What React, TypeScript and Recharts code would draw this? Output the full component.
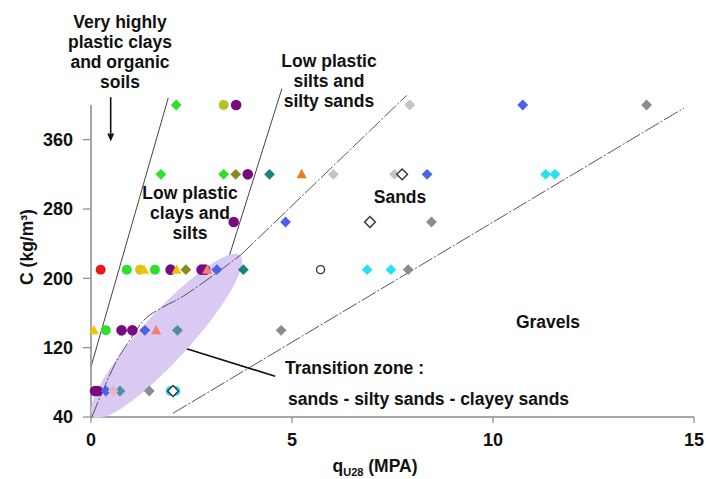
import React from 'react';
import { ComposedChart, Scatter, XAxis, YAxis, ReferenceLine } from 'recharts';

// ---- axes ----
const xTicks = [0, 5, 10, 15];
const yTicks = [40, 120, 200, 280, 360];

// ---- data points (qU28 MPa, C kg/m3) ----
const redCircles = [{ x: 0.24, y: 210 }];
const greenDiamonds = [{ x: 2.12, y: 400 }, { x: 1.74, y: 320 }, { x: 3.3, y: 320 }];
const greenCircles = [{ x: 0.89, y: 210 }, { x: 1.59, y: 210 }, { x: 0.37, y: 140 }];
const limeCircles = [{ x: 3.3, y: 400 }];
const purpleCircles = [
  { x: 3.61, y: 400 }, { x: 3.9, y: 320 }, { x: 3.55, y: 265 }, { x: 1.98, y: 210 },
  { x: 2.75, y: 210 }, { x: 2.84, y: 210 }, { x: 0.76, y: 140 }, { x: 1.03, y: 140 },
  { x: 0.1, y: 70 }, { x: 0.17, y: 70 },
];
const oliveDiamonds = [{ x: 3.6, y: 320 }, { x: 2.36, y: 210 }];
const tealDiamonds = [{ x: 4.44, y: 320 }, { x: 3.79, y: 210 }];
const steelDiamonds = [{ x: 2.15, y: 140 }, { x: 0.72, y: 70 }];
const orangeTriangles = [{ x: 5.24, y: 320 }];
const salmonTriangles = [{ x: 2.89, y: 210 }, { x: 1.62, y: 140 }];
const yellowCircles = [{ x: 1.22, y: 210 }];
const yellowTriangles = [{ x: 1.32, y: 210 }, { x: 2.13, y: 210 }, { x: 0.07, y: 140 }];
const blueDiamonds = [
  { x: 10.74, y: 400 }, { x: 8.36, y: 320 }, { x: 4.84, y: 265 },
  { x: 3.13, y: 210 }, { x: 1.34, y: 140 }, { x: 0.37, y: 70 },
];
const lightGrayDiamonds = [{ x: 7.93, y: 400 }, { x: 6.03, y: 320 }, { x: 7.55, y: 320 }];
const grayDiamonds = [
  { x: 13.82, y: 400 }, { x: 8.47, y: 265 }, { x: 7.89, y: 210 },
  { x: 4.73, y: 140 }, { x: 1.45, y: 70 },
];
const cyanDiamonds = [{ x: 11.31, y: 320 }, { x: 11.54, y: 320 }, { x: 6.87, y: 210 }, { x: 7.46, y: 210 }];
const cyanCircles = [{ x: 1.98, y: 70 }, { x: 2.1, y: 70 }];
const pinkDiamonds = [{ x: 0.55, y: 70 }];
const openDiamonds = [{ x: 7.74, y: 320 }, { x: 6.94, y: 265 }, { x: 2.04, y: 70 }];
const openCircles = [{ x: 5.71, y: 210 }];

// ---- zone boundaries ----
const lineVeryHighly = [{ x: 0, y: 98 }, { x: 1.92, y: 408 }];
const lineLowPlasticSilts = [{ x: 3.38, y: 217 }, { x: 4.75, y: 419 }];
const sandsBoundaryCurve = [
  { x: 0.02, y: 40 }, { x: 0.3, y: 71 }, { x: 0.64, y: 105 }, { x: 0.97, y: 129 },
  { x: 1.3, y: 151 }, { x: 1.72, y: 165 }, { x: 2.21, y: 177 }, { x: 2.88, y: 198 },
  { x: 3.38, y: 215 }, { x: 3.75, y: 228 },
];
const sandsBoundaryUpper = [{ x: 3.75, y: 228 }, { x: 7.85, y: 411 }];
const gravelsBoundary = [{ x: 2.04, y: 44.3 }, { x: 14.75, y: 396.5 }];
const transitionZoneAxis = [{ x: 0.05, y: 40.5 }, { x: 3.71, y: 226.6 }];
const arrowOrganic = [{ x: 0.49, y: 409 }, { x: 0.49, y: 358 }];
const arrowTransition = [{ x: 4.58, y: 87 }, { x: 2.09, y: 123 }];

// ---- shapes ----
const makeDiamond = (fill: string, stroke = 'none') => (p: any) => {
  const { cx, cy } = p;
  const s = 5.4;
  return (
    <path
      d={`M${cx},${cy - s}L${cx + s},${cy}L${cx},${cy + s}L${cx - s},${cy}Z`}
      fill={fill}
      stroke={stroke}
      strokeWidth={stroke === 'none' ? 0 : 1.4}
    />
  );
};
const makeCircle = (fill: string, stroke = 'none', r = 5) => (p: any) => (
  <circle cx={p.cx} cy={p.cy} r={r} fill={fill} stroke={stroke} strokeWidth={stroke === 'none' ? 0 : 1.4} />
);
const makeTriangle = (fill: string) => (p: any) => {
  const { cx, cy } = p;
  return <path d={`M${cx},${cy - 5.5}L${cx + 5},${cy + 4}L${cx - 5},${cy + 4}Z`} fill={fill} />;
};
const noShape = () => <g />;

const EllipseLine = (p: any) => {
  const pts = p.points;
  if (!pts || pts.length < 2) return <g />;
  const a = pts[0];
  const b = pts[pts.length - 1];
  const cx = (a.x + b.x) / 2;
  const cy = (a.y + b.y) / 2;
  const dx = b.x - a.x;
  const dy = b.y - a.y;
  const rx = Math.sqrt(dx * dx + dy * dy) / 2;
  const ang = (Math.atan2(dy, dx) * 180) / Math.PI;
  return (
    <ellipse cx={cx} cy={cy} rx={rx} ry={24} transform={`rotate(${ang} ${cx} ${cy})`} fill="#d9c9f3" stroke="none" />
  );
};

const ArrowShape = (p: any) => {
  const { x1, y1, x2, y2 } = p;
  const ang = Math.atan2(y2 - y1, x2 - x1);
  const L = 8;
  const W = 3.5;
  const bx = x2 - L * Math.cos(ang);
  const by = y2 - L * Math.sin(ang);
  const px = -Math.sin(ang) * W;
  const py = Math.cos(ang) * W;
  return (
    <g>
      <line x1={x1} y1={y1} x2={bx} y2={by} stroke="#111" strokeWidth={1.6} />
      <path d={`M${x2},${y2}L${bx + px},${by + py}L${bx - px},${by - py}Z`} fill="#111" />
    </g>
  );
};

const DASH = '16 2 2 2';
const SolidLine = (p: any) => <line x1={p.x1} y1={p.y1} x2={p.x2} y2={p.y2} stroke="#444" strokeWidth={1} />;
const DashLine = (p: any) => (
  <line x1={p.x1} y1={p.y1} x2={p.x2} y2={p.y2} stroke="#555" strokeWidth={1} strokeDasharray={DASH} />
);

const FONT = '"Liberation Sans", Arial, sans-serif';
const tickStyle = { fontSize: 18, fontWeight: 'bold', fill: '#111', fontFamily: FONT };

const Txt = ({ x, y, left, children }: any) => (
  <div
    style={{
      position: 'absolute',
      left: x,
      top: y,
      transform: left ? 'translate(0,-50%)' : 'translate(-50%,-50%)',
      fontFamily: FONT,
      fontWeight: 'bold',
      fontSize: 17.5,
      lineHeight: '20px',
      whiteSpace: 'nowrap',
      textAlign: 'center',
      color: '#111',
    }}
  >
    {children}
  </div>
);

export default function App() {
  return (
    <div style={{ position: 'absolute', left: 0, top: 0, width: 706, height: 479, background: '#fff' }}>
      <ComposedChart width={706} height={479} margin={{ top: 105, right: 12, left: 0, bottom: 0 }}>
        <XAxis
          type="number"
          dataKey="x"
          domain={[0, 15]}
          ticks={xTicks}
          height={62}
          tick={tickStyle}
          tickSize={6}
          tickMargin={10}
          axisLine={{ stroke: '#8a8a8a', strokeWidth: 1.5 }}
          tickLine={{ stroke: '#8a8a8a', strokeWidth: 1.2 }}
        />
        <YAxis
          type="number"
          dataKey="y"
          domain={[40, 400]}
          ticks={yTicks}
          width={91}
          tick={tickStyle}
          tickSize={8}
          tickMargin={10}
          axisLine={{ stroke: '#8a8a8a', strokeWidth: 1.5 }}
          tickLine={{ stroke: '#8a8a8a', strokeWidth: 1.2 }}
        />
        <Scatter
          data={transitionZoneAxis}
          line={EllipseLine}
          lineType="joint"
          shape={noShape}
          isAnimationActive={false}
        />
        <Scatter
          data={sandsBoundaryCurve}
          line={{ stroke: '#555', strokeWidth: 1, strokeDasharray: DASH }}
          lineJointType="monotoneX"
          lineType="joint"
          shape={noShape}
          isAnimationActive={false}
        />
        <ReferenceLine segment={sandsBoundaryUpper} ifOverflow="visible" shape={DashLine} />
        <ReferenceLine segment={lineVeryHighly} ifOverflow="visible" shape={SolidLine} />
        <ReferenceLine segment={lineLowPlasticSilts} ifOverflow="visible" shape={SolidLine} />
        <ReferenceLine segment={gravelsBoundary} ifOverflow="visible" shape={DashLine} />
        <ReferenceLine segment={arrowOrganic} ifOverflow="visible" shape={ArrowShape} />
        <ReferenceLine segment={arrowTransition} ifOverflow="visible" shape={ArrowShape} />

        <Scatter data={redCircles} shape={makeCircle('#ee1515')} isAnimationActive={false} />
        <Scatter data={greenDiamonds} shape={makeDiamond('#2ee02e')} isAnimationActive={false} />
        <Scatter data={greenCircles} shape={makeCircle('#2ee02e')} isAnimationActive={false} />
        <Scatter data={limeCircles} shape={makeCircle('#b5c22a')} isAnimationActive={false} />
        <Scatter data={yellowCircles} shape={makeCircle('#d6c21a')} isAnimationActive={false} />
        <Scatter data={purpleCircles} shape={makeCircle('#7a0a82', 'none', 5.3)} isAnimationActive={false} />
        <Scatter data={oliveDiamonds} shape={makeDiamond('#8b8a22')} isAnimationActive={false} />
        <Scatter data={tealDiamonds} shape={makeDiamond('#1c8276')} isAnimationActive={false} />
        <Scatter data={steelDiamonds} shape={makeDiamond('#4f8fa6')} isAnimationActive={false} />
        <Scatter data={orangeTriangles} shape={makeTriangle('#ee7a1c')} isAnimationActive={false} />
        <Scatter data={salmonTriangles} shape={makeTriangle('#f2806e')} isAnimationActive={false} />
        <Scatter data={yellowTriangles} shape={makeTriangle('#f2c400')} isAnimationActive={false} />
        <Scatter data={blueDiamonds} shape={makeDiamond('#4a62ea')} isAnimationActive={false} />
        <Scatter data={lightGrayDiamonds} shape={makeDiamond('#c4c4c4')} isAnimationActive={false} />
        <Scatter data={grayDiamonds} shape={makeDiamond('#8c8c8c')} isAnimationActive={false} />
        <Scatter data={cyanDiamonds} shape={makeDiamond('#27e2ee')} isAnimationActive={false} />
        <Scatter data={cyanCircles} shape={makeCircle('#27d8ee')} isAnimationActive={false} />
        <Scatter data={pinkDiamonds} shape={makeDiamond('#e2b6c4')} isAnimationActive={false} />
        <Scatter data={openDiamonds} shape={makeDiamond('#ffffff', '#333')} isAnimationActive={false} />
        <Scatter data={openCircles} shape={makeCircle('#ffffff', '#333', 4)} isAnimationActive={false} />
      </ComposedChart>

      <Txt x={120} y={52}>
        Very highly<br />plastic clays<br />and organic<br />soils
      </Txt>
      <Txt x={329} y={81}>
        Low plastic<br />silts and<br />silty sands
      </Txt>
      <Txt x={190} y={213}>
        Low plastic<br />clays and<br />silts
      </Txt>
      <Txt x={400} y={197}>Sands</Txt>
      <Txt x={548} y={322}>Gravels</Txt>
      <Txt x={285} y={368} left>Transition zone :</Txt>
      <Txt x={288} y={399} left>sands - silty sands - clayey sands</Txt>

      <div
        style={{
          position: 'absolute',
          left: 27,
          top: 247,
          transform: 'translate(-50%,-50%) rotate(-90deg)',
          fontFamily: FONT,
          fontWeight: 'bold',
          fontSize: 17.5,
          whiteSpace: 'nowrap',
          color: '#111',
        }}
      >
        C (kg/m³)
      </div>
      <div
        style={{
          position: 'absolute',
          left: 375,
          top: 466,
          transform: 'translate(-50%,-50%)',
          fontFamily: FONT,
          fontWeight: 'bold',
          fontSize: 17.5,
          whiteSpace: 'nowrap',
          color: '#111',
        }}
      >
        q<span style={{ fontSize: 11, position: 'relative', top: 4 }}>U28</span> (MPA)
      </div>
    </div>
  );
}
